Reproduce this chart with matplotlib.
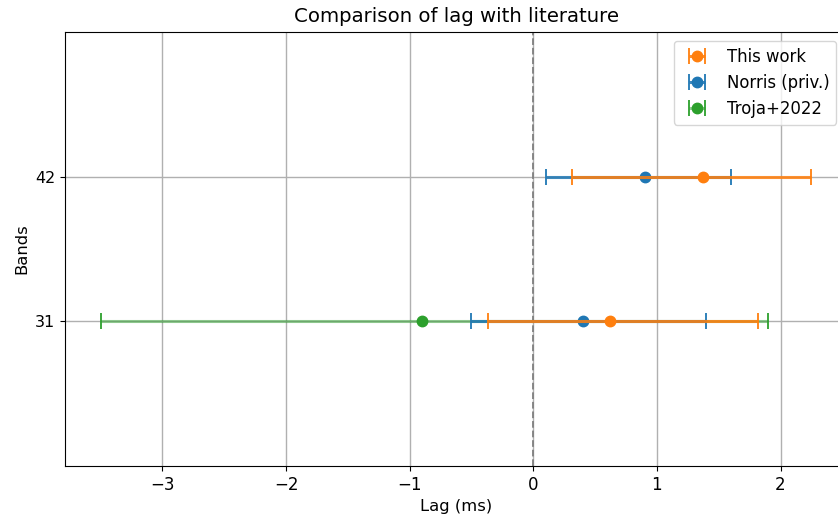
import matplotlib
matplotlib.use("Agg")
import matplotlib.pyplot as plt

bands = [42, 31]

this_work_lag = [1.37, 0.62]
this_work_lo = [0.31, -0.37]
this_work_hi = [2.25, 1.82]

norris_bands = [42, 31]
norris_lag = [0.90, 0.40]
norris_lo = [0.10, -0.50]
norris_hi = [1.60, 1.40]

troja_bands = [31]
troja_lag = [-0.90]
troja_lo = [-3.50]
troja_hi = [1.90]


def asym(vals, lo, hi):
    return [[v - l for v, l in zip(vals, lo)], [h - v for v, h in zip(vals, hi)]]


fig = plt.figure(figsize=(8.38, 5.21), dpi=100)
ax = fig.add_axes([65 / 838, 1 - 466 / 521, (847 - 65) / 838, (466 - 32) / 521])

series = [
    ("This work", bands, this_work_lag, this_work_lo, this_work_hi, "C1", 5, 0.85),
    ("Norris (priv.)", norris_bands, norris_lag, norris_lo, norris_hi, "C0", 4, 0.85),
    ("Troja+2022", troja_bands, troja_lag, troja_lo, troja_hi, "C2", 3, 0.5),
]
for label, y, x, lo, hi, col, z, a in series:
    eb = ax.errorbar(x, y, xerr=asym(x, lo, hi), fmt="o", color=col,
                     capsize=6, markersize=7.5, elinewidth=2.2, capthick=1.3,
                     label=label, zorder=z)
    eb[2][0].set_alpha(a)

ax.axvline(0, color="grey", linestyle="--", linewidth=1.3, zorder=2)

ax.set_xlim(-3.7875, 2.5375)
ax.set_ylim(20, 53)
ax.set_yticks(bands)
ax.grid(True, color="#b0b0b0", linewidth=1.0)
ax.set_axisbelow(True)
ax.tick_params(labelsize=12)
ax.tick_params(axis="y", labelsize=11.5)
ax.set_xlabel("Lag (ms)", fontsize=11.8)
ax.set_ylabel("Bands", fontsize=11.8)
ax.set_title("Comparison of lag with literature", fontsize=14.2, pad=7)
ax.legend(loc="upper right", fontsize=11.9, borderaxespad=0,
          bbox_to_anchor=(836 / 838, 1 - 41 / 521), bbox_transform=fig.transFigure)

fig.savefig("out.png", dpi=100)
